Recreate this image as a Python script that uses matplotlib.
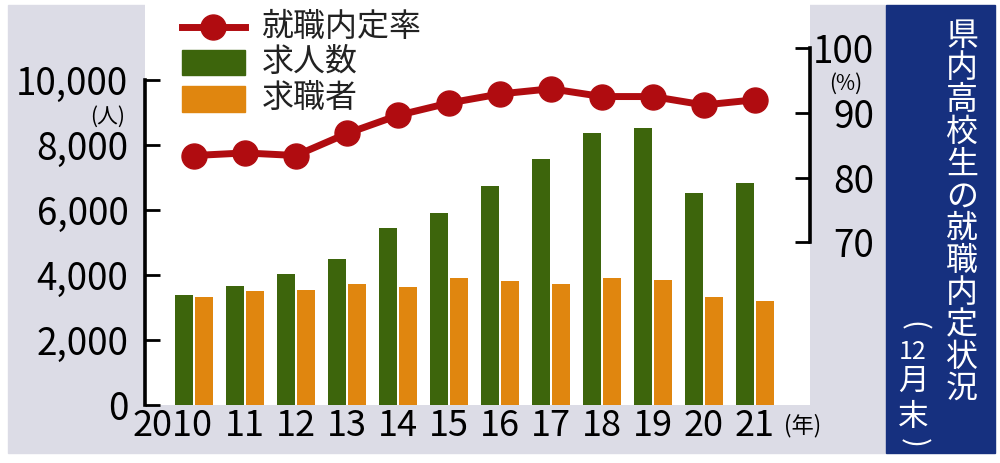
import numpy as np
import matplotlib
matplotlib.use("Agg")
import matplotlib.pyplot as plt
from matplotlib.patches import Rectangle
from matplotlib.lines import Line2D
from matplotlib.transforms import ScaledTranslation

plt.rcParams['font.family'] = ['Noto Sans CJK JP', 'DejaVu Sans']

# データ
years = ['2010', '11', '12', '13', '14', '15', '16', '17', '18', '19', '20', '21']
openings = [3380, 3660, 4030, 4490, 5450, 5910, 6740, 7570, 8370, 8520, 6520, 6830]    # 求人数
seekers = [3320, 3510, 3540, 3720, 3630, 3910, 3820, 3720, 3900, 3850, 3330, 3200]     # 求職者
rate = [83.4, 83.8, 83.4, 86.8, 89.6, 91.5, 92.9, 93.7, 92.5, 92.5, 91.2, 92.0]        # 就職内定率

green = '#3d650c'
orange = '#e0860f'
red = '#b00c10'
gray = '#dcdce6'
navy = '#16307f'

W, H = 1000, 463


def fx(x):
    return x / W


def fy(y):
    return 1 - y / H


fig = plt.figure(figsize=(10, 4.63), dpi=100)

# 背景パネル
fig.patches.append(Rectangle((fx(8), fy(453)), fx(877), (453 - 5) / H,
                             transform=fig.transFigure, color=gray, zorder=-2))
fig.patches.append(Rectangle((fx(886), fy(453)), fx(109), (453 - 5) / H,
                             transform=fig.transFigure, color=navy, zorder=-2))

ax = fig.add_axes([fx(145), fy(405), fx(665), 405 / H])
ax.set_facecolor('white')
x = np.arange(len(years))
ax.bar(x - 0.196, openings, width=0.353, color=green, zorder=2)
ax.bar(x + 0.196, seekers, width=0.353, color=orange, zorder=2)
ax.set_xlim(-0.96, 12.08)
ax.set_ylim(0, 12460)

ax.spines['top'].set_visible(False)
ax.spines['bottom'].set_visible(False)
ax.spines['right'].set_visible(False)
ax.spines['left'].set_linewidth(2.6)
ax.spines['left'].set_bounds(0, 10000)
ax.set_yticks([0, 2000, 4000, 6000, 8000, 10000])
ax.set_yticklabels(['0', '2,000', '4,000', '6,000', '8,000', '10,000'])
ax.tick_params(axis='y', direction='in', length=11, width=2, pad=12, labelsize=26.5)
ax.set_xticks(x)
ax.set_xticklabels(years)
ax.tick_params(axis='x', length=0, pad=2, labelsize=26)
lab0 = ax.get_xticklabels()[0]
lab0.set_ha('right')
lab0.set_transform(lab0.get_transform() + ScaledTranslation(19 / 100, 0, fig.dpi_scale_trans))

ax2 = ax.twinx()
ax2.patch.set_visible(False)
ax2.plot(x, rate, color=red, lw=5, marker='o', ms=18, zorder=3)
ax2.set_ylim(44.9, 107.4)
for s in ['top', 'bottom', 'left']:
    ax2.spines[s].set_visible(False)
ax2.spines['right'].set_linewidth(2.6)
ax2.spines['right'].set_bounds(70, 100)
ax2.set_yticks([70, 80, 90, 100])
ax2.tick_params(axis='y', direction='in', length=11, width=2, pad=46, labelsize=26.5)
for t in ax2.get_yticklabels():
    t.set_ha('right')

# 単位
fig.text(fx(108), fy(117), '(人)', fontsize=15, ha='center', va='center')
fig.text(fx(846), fy(84), '(%)', fontsize=15, ha='center', va='center')
fig.text(fx(803), fy(426), '(年)', fontsize=16, ha='center', va='center')

# 凡例
fig.lines.append(Line2D([fx(182), fx(245)], [fy(27), fy(27)], transform=fig.transFigure,
                        color=red, lw=5, zorder=5))
fig.lines.append(Line2D([fx(213)], [fy(27)], transform=fig.transFigure,
                        color=red, marker='o', ms=18, lw=0, zorder=5))
fig.patches.append(Rectangle((fx(182), fy(75)), fx(63), 25 / H, transform=fig.transFigure,
                             color=green, zorder=5))
fig.patches.append(Rectangle((fx(182), fy(112)), fx(63), 26 / H, transform=fig.transFigure,
                             color=orange, zorder=5))
for label, yy in [('就職内定率', 27), ('求人数', 62), ('求職者', 98)]:
    fig.text(fx(262), fy(yy), label, fontsize=23, ha='left', va='center', color='#222222')

# 縦書きタイトル
title = '県内高校生の就職内定状況'
for i, ch in enumerate(title):
    fig.text(fx(962), fy(36 + i * 32.1), ch, fontsize=23, color='white', ha='center', va='center')
sub = [('(', 326, -90, 21), ('12', 352, 0, 18), ('月', 381, 0, 22), ('末', 418, 0, 22), (')', 443, -90, 21)]
for ch, yy, rot, fs in sub:
    fig.text(fx(913), fy(yy), ch, fontsize=fs, color='white', ha='center', va='center', rotation=rot)

fig.savefig('out.png', dpi=100, facecolor='white')
